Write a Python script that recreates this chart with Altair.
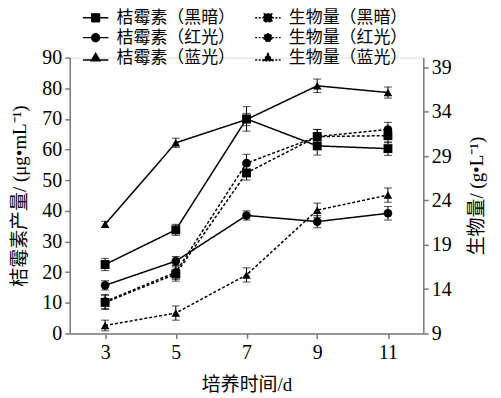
import altair as alt
import pandas as pd

days = [3, 5, 7, 9, 11]
series_names = ["桔霉素（黑暗）", "生物量（黑暗）", "桔霉素（红光）", "生物量（红光）", "桔霉素（蓝光）", "生物量（蓝光）"]

citrinin_dark = [22.5, 33.8, 70.0, 61.2, 60.3]
citrinin_red = [15.7, 23.6, 38.5, 36.5, 39.2]
citrinin_blue = [35.6, 62.2, 69.8, 80.8, 78.6]
citrinin_dark_err = [2.0, 1.8, 4.0, 3.0, 2.2]
citrinin_red_err = [1.5, 1.5, 1.5, 2.0, 2.2]
citrinin_blue_err = [1.0, 1.5, 2.0, 2.2, 1.8]

biomass_dark = [12.5, 15.7, 27.1, 31.2, 31.3]
biomass_red = [12.6, 15.9, 28.2, 31.2, 32.0]
biomass_blue = [9.9, 11.3, 15.6, 22.9, 24.6]
biomass_dark_err = [0.8, 0.8, 0.8, 0.8, 0.8]
biomass_red_err = [0.8, 0.8, 1.0, 0.8, 0.8]
biomass_blue_err = [0.6, 0.8, 0.8, 0.8, 0.8]

light = ["黑暗", "红光", "蓝光"]

def make_df(vals, errs, prefix):
    rows = []
    for lt, v, e in zip(light, vals, errs):
        for d, vv, ee in zip(days, v, e):
            rows.append({"day": d, "v": vv, "lo": vv - ee, "hi": vv + ee,
                         "light": lt, "series": f"{prefix}（{lt}）"})
    return pd.DataFrame(rows)

left_df = make_df([citrinin_dark, citrinin_red, citrinin_blue],
                  [citrinin_dark_err, citrinin_red_err, citrinin_blue_err], "桔霉素")
right_df = make_df([biomass_dark, biomass_red, biomass_blue],
                   [biomass_dark_err, biomass_red_err, biomass_blue_err], "生物量")

FONT = "Times New Roman, Liberation Serif, Noto Sans CJK SC, serif"
AX = "#7a7a7a"

x_axis = alt.Axis(values=days, title="培养时间/d", grid=False, domainColor=AX, tickColor=AX,
                  domainWidth=1.5, tickWidth=1.5, tickSize=5, labelFont=FONT, labelFontSize=20,
                  labelColor="black", titleFont=FONT, titleFontSize=19, titleFontWeight="normal",
                  titleColor="black", labelPadding=4, titlePadding=13, labelOverlap=False)
x_scale = alt.Scale(domain=[2, 12], nice=False, zero=False)


def build(df, yscale, yaxis, dash):
    base = alt.Chart(df)
    X = lambda f: alt.X(f, scale=x_scale, axis=x_axis)
    Y = lambda f: alt.Y(f, scale=yscale, axis=yaxis)
    line = base.mark_line(color="black", strokeWidth=1.5, strokeDash=dash).encode(
        x=X("day:Q"), y=Y("v:Q"), detail="series:N")
    rule = base.mark_rule(color="black", strokeWidth=1).encode(
        x=X("day:Q"), y=Y("lo:Q"), y2="hi:Q")
    cap_hi = base.mark_tick(color="black", orient="horizontal", size=8, thickness=1).encode(x=X("day:Q"), y=Y("hi:Q"))
    cap_lo = base.mark_tick(color="black", orient="horizontal", size=8, thickness=1).encode(x=X("day:Q"), y=Y("lo:Q"))
    sq = base.transform_filter(alt.datum.light == "黑暗").mark_square(size=80, color="black", opacity=1).encode(x=X("day:Q"), y=Y("v:Q"))
    ci = base.transform_filter(alt.datum.light == "红光").mark_circle(size=75, color="black", opacity=1).encode(x=X("day:Q"), y=Y("v:Q"))
    tr = base.transform_filter(alt.datum.light == "蓝光").mark_point(shape="triangle-up", size=75, filled=True, color="black", opacity=1).encode(x=X("day:Q"), y=Y("v:Q"))
    return [line, rule, cap_hi, cap_lo, sq, ci, tr], X, Y

left_axis = alt.Axis(values=list(range(0, 91, 10)), title="桔霉素产量/ (μg•mL⁻¹)", grid=False,
                     domainColor=AX, tickColor=AX, domainWidth=1.5, tickWidth=1.5, tickSize=5,
                     labelFont=FONT, labelFontSize=20, labelColor="black", labelPadding=3, labelOverlap=False,
                     titleFont=FONT, titleFontSize=19, titleFontWeight="normal", titleColor="black",
                     titleX=-50, titleY=138.5, titleAngle=-90, titleAlign="center", titleBaseline="middle")
right_axis = alt.Axis(values=[9, 14, 19, 24, 29, 34, 39], title="生物量/ (g•L⁻¹)", grid=False, orient="right",
                      domainColor=AX, tickColor=AX, domainWidth=1.5, tickWidth=1.5, tickSize=5,
                      labelFont=FONT, labelFontSize=20, labelColor="black", labelPadding=3, labelOverlap=False,
                      titleFont=FONT, titleFontSize=19, titleFontWeight="normal", titleColor="black",
                      titleX=53, titleY=138.5, titleAngle=-90, titleAlign="center", titleBaseline="middle")

left_layers, LX, LY = build(left_df, alt.Scale(domain=[0, 90], nice=False), left_axis, [1, 0])
right_layers, RX, RY = build(right_df, alt.Scale(domain=[9, 40.1], nice=False, zero=False), right_axis, [3, 2])

# legend-only layer (points placed outside x domain and clipped)
sq_p = "M-1.6,0H-0.5M0.5,0H1.6M-0.5,-0.5H0.5V0.5H-0.5Z"
ci_p = "M-1.6,0H-0.5M0.5,0H1.6M-0.5,0A0.5,0.5 0 1,0 0.5,0A0.5,0.5 0 1,0 -0.5,0Z"
tr_p = "M-1.6,0.3H-0.5M0.5,0.3H1.6M0,-0.55L0.55,0.4H-0.55Z"
leg_df = pd.DataFrame({"series": series_names, "day": [0] * 6, "v": [0] * 6})
black6 = ["black"] * 6
leg = alt.Legend(title=None, orient="none", legendX=17, legendY=-49, columns=2, direction="horizontal",
                 labelFont=FONT, labelFontSize=17, labelColor="black",
                 symbolSize=256, symbolStrokeWidth=1.3, labelOffset=12, columnPadding=17,
                 rowPadding=3, padding=0, labelLimit=300)
legend_layer = alt.Chart(leg_df).mark_point(filled=True, strokeWidth=1.3, opacity=1, clip=True).encode(
    x=LX("day:Q"), y=LY("v:Q"),
    shape=alt.Shape("series:N", scale=alt.Scale(domain=series_names,
                                                range=[sq_p, sq_p, ci_p, ci_p, tr_p, tr_p]), legend=leg),
    strokeDash=alt.StrokeDash("series:N", scale=alt.Scale(domain=series_names,
                                                          range=[[1, 0], [2, 1.5], [1, 0], [2, 1.5], [1, 0], [2, 1.5]]),
                              legend=leg),
    fill=alt.Fill("series:N", scale=alt.Scale(domain=series_names, range=black6), legend=leg),
    stroke=alt.Stroke("series:N", scale=alt.Scale(domain=series_names, range=black6), legend=leg),
)

left = alt.layer(*left_layers, legend_layer)
right = alt.layer(*right_layers)

chart = alt.layer(left, right).resolve_scale(y="independent").properties(
    width=355, height=277,
    autosize=alt.AutoSizeParams(type="none"),
    padding={"left": 62, "top": 49, "right": 70, "bottom": 63},
).configure_view(stroke=None).configure(background="white")

chart.save("out.html", embed_options={"renderer": "svg", "actions": False})
